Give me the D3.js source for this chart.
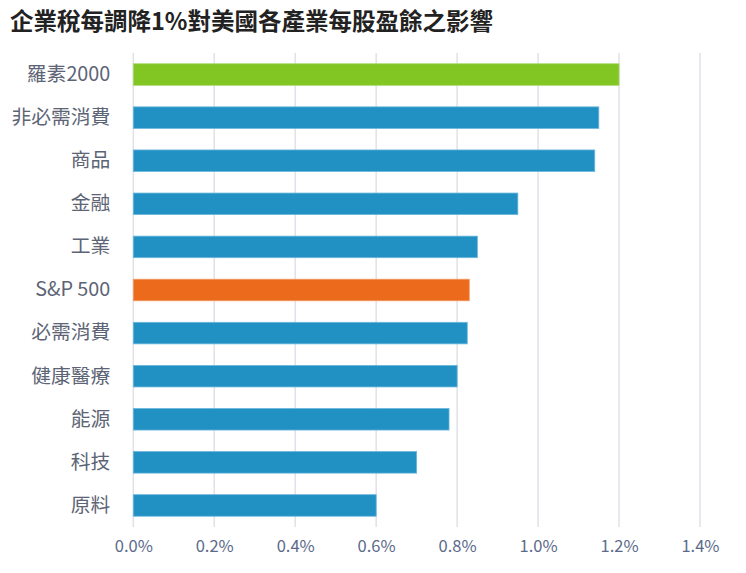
<!DOCTYPE html>
<html><head><meta charset="utf-8">
<script src="https://cdn.jsdelivr.net/npm/d3@7"></script>
<style>
body{margin:0;background:#fff;}
svg{display:block;font-family:"Noto Sans CJK TC","Noto Sans",sans-serif;}
</style></head>
<body><svg id="c" width="746" height="573"></svg>
<script>
const title = "企業稅每調降1%對美國各產業每股盈餘之影響";
const categories = ["羅素2000","非必需消費","商品","金融","工業","S&P 500","必需消費","健康醫療","能源","科技","原料"];
const values = [1.20,1.15,1.14,0.95,0.85,0.83,0.825,0.80,0.78,0.70,0.60];
const colorGroups = ["green","blue","blue","blue","blue","orange","blue","blue","blue","blue","blue"];
const tickValues = [0,0.2,0.4,0.6,0.8,1.0,1.2,1.4];

const palette = {green:"#82c624", blue:"#2190c3", orange:"#ec6a1b"};
const strokePal = {green:"#a6d86a", blue:"#6cb6de", orange:"#f29a63"};

const svg = d3.select("#c");
const x = d3.scaleLinear().domain([0,1.4]).range([133.3,700]);
const y = d3.scaleBand().domain(categories).range([53,527]).paddingInner(0.5).paddingOuter(0.25);

svg.append("text").attr("x",10).attr("y",30).attr("font-size",23.5).attr("font-weight","bold")
  .attr("fill","#222").text(title);

// gridlines
svg.append("g").selectAll("line").data(tickValues).join("line")
  .attr("x1",d=>x(d)).attr("x2",d=>x(d)).attr("y1",53).attr("y2",527)
  .attr("stroke","#e1e1e8").attr("stroke-width",1.5);

// bars
svg.append("g").selectAll("rect").data(categories).join("rect")
  .attr("x",x(0)).attr("y",d=>y(d))
  .attr("width",(d,i)=>x(values[i])-x(0)).attr("height",y.bandwidth())
  .attr("fill",(d,i)=>palette[colorGroups[i]])
  .attr("stroke",(d,i)=>strokePal[colorGroups[i]]).attr("stroke-width",0.8);

// y labels
const yAxis = d3.axisLeft(y).tickSize(0).tickPadding(23);
const gy = svg.append("g").attr("transform",`translate(${x(0)},0)`).call(yAxis);
gy.select(".domain").remove();
gy.selectAll("text").attr("font-size",19.8).attr("fill","#5c6475")
  .attr("font-family",'"Noto Sans CJK TC","Noto Sans",sans-serif');

// x labels
const xAxis = d3.axisBottom(x).tickValues(tickValues).tickSize(0).tickPadding(13)
  .tickFormat(d=>d3.format(".1f")(d)+"%");
const gx = svg.append("g").attr("transform","translate(0,527)").call(xAxis);
gx.select(".domain").remove();
gx.selectAll("text").attr("font-size",16.5).attr("fill","#5b6a8a")
  .attr("font-family",'"Noto Sans CJK TC","Noto Sans",sans-serif');
</script></body></html>
